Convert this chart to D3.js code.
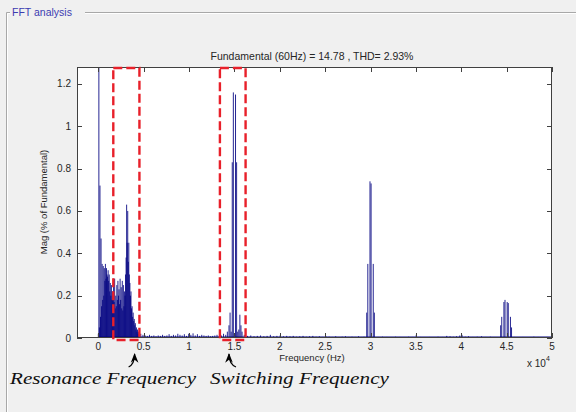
<!DOCTYPE html>
<html><head><meta charset="utf-8">
<script src="https://cdn.jsdelivr.net/npm/d3@7/dist/d3.min.js"></script>
<style>html,body{margin:0;padding:0;background:#f0f0f0;}svg{display:block;}</style>
</head><body>
<svg id="c" width="576" height="412"></svg>
<script>
// ---- data ----
const fundamentalHz = 60;
const chartTitle = "Fundamental (60Hz) = 14.78 , THD= 2.93%";
const panelTitle = "FFT analysis";
const xLabel = "Frequency (Hz)";
const yLabel = "Mag (% of Fundamental)";
const xTicks = [0, 5000, 10000, 15000, 20000, 25000, 30000, 35000, 40000, 45000, 50000];
const xTickLabels = ["0","0.5","1","1.5","2","2.5","3","3.5","4","4.5","5"];
const yTicks = [0, 0.2, 0.4, 0.6, 0.8, 1, 1.2];
const yTickLabels = ["0","0.2","0.4","0.6","0.8","1","1.2"];
// magnitudes for harmonic orders 0..75 (low band)
const lowBandMag = [0.02,100,0.05,0.72,0.1,0.47,0.15,0.35,0.18,0.34,0.2,0.33,0.27,0.35,0.28,0.33,0.3,0.29,0.32,0.27,
 0.3,0.22,0.26,0.2,0.25,0.18,0.22,0.2,0.28,0.17,0.28,0.14,0.2,0.15,0.25,0.18,0.27,0.2,0.23,0.16,
 0.28,0.18,0.24,0.14,0.27,0.13,0.25,0.15,0.22,0.2,0.3,0.38,0.63,0.45,0.6,0.36,0.45,0.3,0.26,0.2,
 0.22,0.14,0.15,0.1,0.12,0.08,0.09,0.06,0.07,0.04,0.05,0.03,0.04,0.02,0.03,0.02];
// [harmonic order, magnitude]
const floorBand1 = [[78,.02],[82,.015],[86,.012],[90,.01],[94,.015],[98,.01],[102,.012],[106,.008],[110,.012],[114,.01],
 [118,.015],[122,.01],[126,.012],[130,.018],[134,.01],[138,.015],[142,.012],[146,.02],[150,.015],[154,.012],[158,.018],
 [162,.01],[166,.02],[170,.015],[174,.022],[178,.012],[182,.018],[186,.01],[190,.015],[194,.012],[198,.01],[202,.012],
 [206,.008],[210,.01],[214,.012],[218,.015],[222,.01],[226,.012],[230,.02],[234,.015],[237,.03]];
const switchCluster1 = [[240,.06],[242,.12],[244,.03],[246,.83],[248,1.16],[250,.02],[252,1.15],[254,.83],[256,.03],[258,.04],[260,.11],[262,.06],[264,.03]];
const floorBand2 = [[268,.015],[274,.01],[280,.012],[286,.008],[292,.01],[298,.012],[304,.008],[310,.01],[316,.015],[322,.008],
 [328,.01],[334,.012],[340,.008],[346,.01],[352,.008],[358,.01],[364,.006],[370,.008],[376,.01],[382,.006],[388,.008],
 [394,.01],[400,.006],[406,.008],[412,.005],[418,.008],[424,.006],[430,.005],[436,.008],[442,.005],[448,.006],[454,.008],
 [460,.005],[466,.006],[472,.005],[478,.008],[484,.005],[488,.006]];
const switchCluster2 = [[493,.12],[495,.35],[499,.74],[501,.73],[505,.35],[507,.12]];
const floorBand3 = [[514,.005],[522,.006],[530,.005],[538,.004],[546,.006],[554,.005],[562,.004],[570,.006],[578,.005],
 [584,.015],[592,.005],[600,.004],[608,.005],[616,.004],[624,.006],[632,.005],[640,.01],[646,.008],[652,.006],[658,.008],
 [664,.012],[668,.015],[674,.006],[680,.008],[688,.005],[696,.006],[704,.008],[712,.005],[720,.006],[728,.004]];
const switchCluster3 = [[739,.06],[741,.1],[745,.17],[747,.18],[751,.17],[753,.165],[757,.1],[759,.05]];
const floorBand4 = [[764,.005],[772,.004],[780,.005],[790,.004],[800,.006],[808,.005],[816,.004],[824,.005],[830,.004]];
// highlighted regions [fromHz, toHz]
const regions = [[1650, 4530], [13400, 16230]];
const annotations = ["Resonance Frequency", "Switching Frequency"];

// ---- build ----
const bars = lowBandMag.map((m, h) => ({f: h * fundamentalHz, m}))
  .concat([...floorBand1, ...switchCluster1, ...floorBand2, ...switchCluster2, ...floorBand3, ...switchCluster3, ...floorBand4]
  .map(([h, m]) => ({f: h * fundamentalHz, m})));

const svg = d3.select("#c");
const L = 77, R = 552, T = 67, B = 338;
const x = d3.scaleLinear().domain([-2350, 50000]).range([L, R]);
const y = d3.scaleLinear().domain([0, 1.28]).range([B, T]);
const font = "'Liberation Sans', Arial, sans-serif";
const txt = "#262626";

// panel frame
svg.append("path").attr("d", "M6.5,412 V12.5 H576").attr("fill", "none").attr("stroke", "#a8a8a8");
svg.append("path").attr("d", "M7.5,412 V13.5 H576").attr("fill", "none").attr("stroke", "#ffffff");
svg.append("rect").attr("x", 10).attr("y", 5).attr("width", 75).attr("height", 14).attr("fill", "#f0f0f0");
svg.append("text").attr("x", 12).attr("y", 16).text(panelTitle)
  .attr("font-family", font).attr("font-size", 10.5).attr("fill", "#3c3cb0");

// plot bg
svg.append("rect").attr("x", L).attr("y", T).attr("width", R - L).attr("height", B - T).attr("fill", "#fff");

svg.append("clipPath").attr("id", "clip").append("rect").attr("x", L).attr("y", T).attr("width", R - L).attr("height", B - T);

const bw = x(fundamentalHz) - x(0);
svg.append("g").attr("clip-path", "url(#clip)").selectAll("rect").data(bars).join("rect")
  .attr("x", d => x(d.f) - 0.5).attr("width", 1)
  .attr("y", d => y(Math.min(d.m, 1.4))).attr("height", d => y(0) - y(Math.min(d.m, 1.4)))
  .attr("fill", "#000080").attr("fill-opacity", 0.85);
// baseline
svg.append("line").attr("x1", x(0)).attr("x2", R).attr("y1", B - 0.8).attr("y2", B - 0.8)
  .attr("stroke", "#000080").attr("stroke-width", 1.2);

// axes box & ticks
const axc = "#404040";
svg.append("rect").attr("x", L + 0.5).attr("y", T + 0.5).attr("width", R - L - 1).attr("height", B - T - 1)
  .attr("fill", "none").attr("stroke", axc);
const tk = 5;
const gx = svg.append("g");
xTicks.forEach((v, i) => {
  const px = Math.round(x(v)) + 0.5;
  gx.append("line").attr("x1", px).attr("x2", px).attr("y1", B).attr("y2", B - tk).attr("stroke", axc);
  gx.append("line").attr("x1", px).attr("x2", px).attr("y1", T).attr("y2", T + tk).attr("stroke", axc);
  gx.append("text").attr("x", x(v)).attr("y", 350).attr("text-anchor", "middle")
    .attr("font-family", font).attr("font-size", 10).attr("fill", txt).text(xTickLabels[i]);
});
yTicks.forEach((v, i) => {
  const py = Math.round(y(v)) + 0.5;
  gx.append("line").attr("x1", L).attr("x2", L + tk).attr("y1", py).attr("y2", py).attr("stroke", axc);
  gx.append("line").attr("x1", R).attr("x2", R - tk).attr("y1", py).attr("y2", py).attr("stroke", axc);
  gx.append("text").attr("x", 71).attr("y", y(v) + 3.5).attr("text-anchor", "end")
    .attr("font-family", font).attr("font-size", 10).attr("fill", txt).text(yTickLabels[i]);
});

// title & labels
svg.append("text").attr("x", 312).attr("y", 60).attr("text-anchor", "middle")
  .attr("font-family", font).attr("font-size", 10.5).attr("fill", txt).text(chartTitle);
svg.append("text").attr("x", 312).attr("y", 361).attr("text-anchor", "middle")
  .attr("font-family", font).attr("font-size", 9.5).attr("fill", txt).text(xLabel);
svg.append("text").attr("transform", "translate(47,202) rotate(-90)").attr("text-anchor", "middle")
  .attr("font-family", font).attr("font-size", 9.5).attr("fill", txt).text(yLabel);
const ex = svg.append("text").attr("x", 527).attr("y", 367).attr("font-family", font).attr("font-size", 10).attr("fill", txt);
ex.append("tspan").text("x 10");
ex.append("tspan").attr("dy", -6).attr("font-size", 7).text("4");

// dashed regions
svg.selectAll("rect.reg").data(regions).join("rect").attr("class", "reg")
  .attr("x", d => x(d[0])).attr("width", d => x(d[1]) - x(d[0]))
  .attr("y", T + 1).attr("height", B - T + 1)
  .attr("fill", "none").attr("stroke", "#e8202a").attr("stroke-width", 2.4).attr("stroke-dasharray", "9,4");

// arrows
svg.append("defs").append("marker").attr("id", "ah").attr("viewBox", "0 0 10 10").attr("refX", 9).attr("refY", 5)
  .attr("markerWidth", 8).attr("markerHeight", 8).attr("orient", "auto-start-reverse")
  .append("path").attr("d", "M0,1 L10,5 L0,9 L3,5 Z").attr("fill", "#000");
const arrowX = [4000, 14400];
svg.append("path").attr("d", `M${x(arrowX[0]) - 6},367 Q${x(arrowX[0])},364 ${x(arrowX[0])},354`)
  .attr("fill", "none").attr("stroke", "#000").attr("stroke-width", 1.2).attr("marker-end", "url(#ah)");
svg.append("path").attr("d", `M${x(arrowX[1]) + 7},367 Q${x(arrowX[1])},364 ${x(arrowX[1])},354`)
  .attr("fill", "none").attr("stroke", "#000").attr("stroke-width", 1.2).attr("marker-end", "url(#ah)");

const sfont = "'Liberation Serif', 'Times New Roman', serif";
svg.append("text").attr("x", 10).attr("y", 384).attr("font-family", sfont).attr("font-style", "italic")
  .attr("font-size", 17.5).attr("textLength", 186).attr("lengthAdjust", "spacingAndGlyphs").attr("fill", "#111").text(annotations[0]);
svg.append("text").attr("x", 210).attr("y", 384).attr("font-family", sfont).attr("font-style", "italic")
  .attr("font-size", 17.5).attr("textLength", 179).attr("lengthAdjust", "spacingAndGlyphs").attr("fill", "#111").text(annotations[1]);
</script>
</body></html>
